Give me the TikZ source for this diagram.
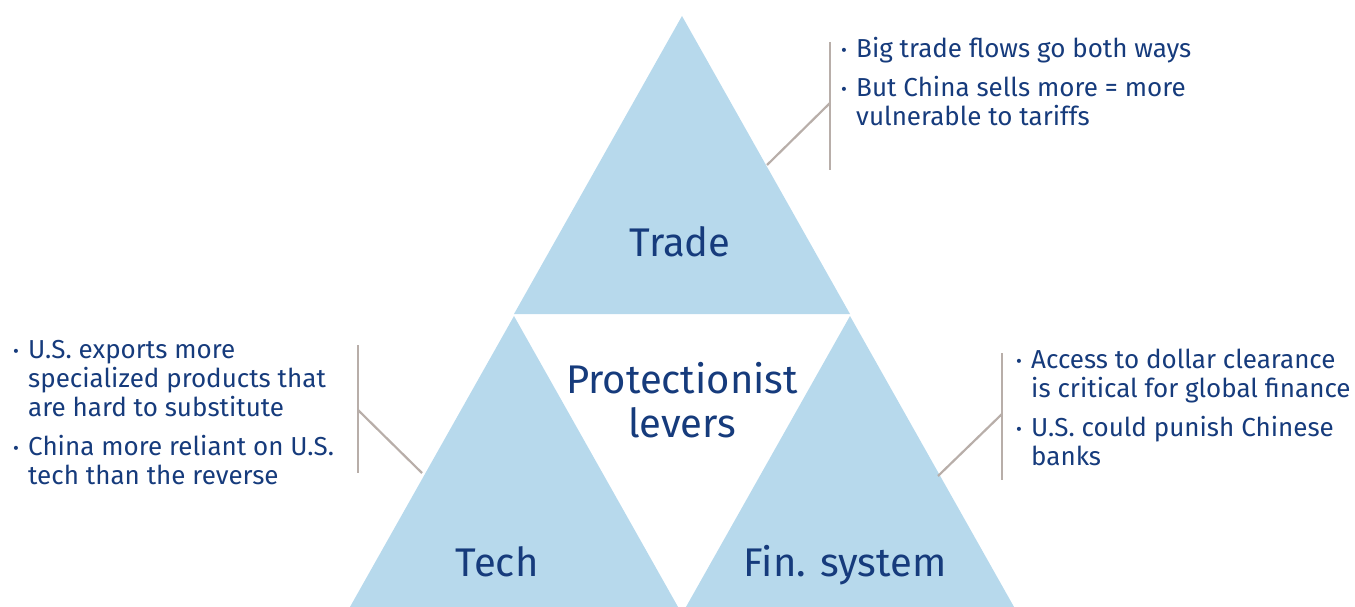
\documentclass[tikz,border=0pt]{standalone}
\usepackage{fontspec}
\setmainfont{Fira Sans}
\definecolor{leverblue}{HTML}{B7D9EC}
\definecolor{inknavy}{HTML}{163B7C}
\definecolor{bracketgrey}{HTML}{B8AEA9}
\newcommand{\bul}{\makebox[15pt][l]{\raisebox{1pt}{\fontsize{18}{20}\selectfont•}}}
\begin{document}
\begin{tikzpicture}[x=1pt,y=-1pt,
  lever/.style={fill=leverblue,draw=none},
  bigword/.style={text=inknavy,font=\fontsize{40}{44}\selectfont,inner sep=0pt},
  notes/.style={text=inknavy,font=\fontsize{26}{29}\selectfont,inner sep=0pt,anchor=base west},
  bracket/.style={draw=bracketgrey,line width=2.2pt}]
\useasboundingbox (0,0) rectangle (1355,607);

% the three lever triangles
\coordinate (tA) at (682,16);  \coordinate (tL) at (514,314); \coordinate (tR) at (850,314);
\coordinate (kA) at (514,316); \coordinate (kL) at (346,614); \coordinate (kR) at (682,614);
\coordinate (fA) at (850,316); \coordinate (fL) at (682,614); \coordinate (fR) at (1018,614);
\begin{scope}
  \clip (0,0) rectangle (1355,607);
  \fill[lever] (tA) -- (tL) -- (tR) -- cycle;
  \fill[lever] (kA) -- (kL) -- (kR) -- cycle;
  \fill[lever] (fA) -- (fL) -- (fR) -- cycle;
\end{scope}

% labels
\node[bigword,anchor=base] (trade) at (680,256) {Trade};
\node[bigword,anchor=base] (tech) at (497,576) {Tech};
\node[bigword,anchor=base] (fin) at (845,576) {Fin. system};
\node[bigword,align=center] (levers) at (682,400) {Protectionist\\levers};

% notes
\node[notes] (tradenotes) at (841,58) {\begin{tabular}[t]{@{}l@{}}
\bul Big trade flows go both ways\\[10pt]
\bul But China sells more = more\\
\hspace*{15pt}vulnerable to tariffs
\end{tabular}};
\node[notes] (technotes) at (13,358) {\begin{tabular}[t]{@{}l@{}}
\bul U.S. exports more\\
\hspace*{15pt}specialized products that\\
\hspace*{15pt}are hard to substitute\\[10pt]
\bul China more reliant on U.S.\\
\hspace*{15pt}tech than the reverse
\end{tabular}};
\node[notes] (finnotes) at (1016,368) {\begin{tabular}[t]{@{}l@{}}
\bul Access to dollar clearance\\
\hspace*{15pt}is critical for global finance\\[10pt]
\bul U.S. could punish Chinese\\
\hspace*{15pt}banks
\end{tabular}};

% callout brackets
\coordinate (tb1) at (830,42);  \coordinate (tb2) at (830,170);
\coordinate (tj) at (830,103);  \coordinate (tf) at (767,165);
\coordinate (kb1) at (358,345); \coordinate (kb2) at (358,473);
\coordinate (kj) at (358,410);  \coordinate (kf) at (422,473);
\coordinate (fb1) at (1002,353); \coordinate (fb2) at (1002,480);
\coordinate (fj) at (1002,414);  \coordinate (ff) at (938,476);
\draw[bracket] (tb1) -- (tb2);
\draw[bracket] (tf) -- (tj);
\draw[bracket] (kb1) -- (kb2);
\draw[bracket] (kj) -- (kf);
\draw[bracket] (fb1) -- (fb2);
\draw[bracket] (fj) -- (ff);
\end{tikzpicture}
\end{document}
